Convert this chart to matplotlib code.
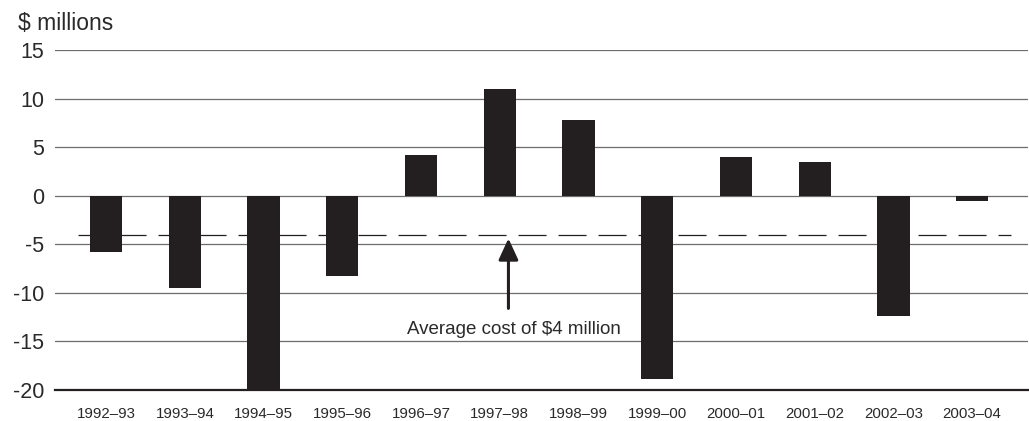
import matplotlib
matplotlib.use("Agg")
import matplotlib.pyplot as plt

plt.rcParams['font.family'] = ['Liberation Sans', 'DejaVu Sans']
plt.rcParams['lines.scale_dashes'] = False

years = ['1992–93', '1993–94', '1994–95', '1995–96', '1996–97', '1997–98',
         '1998–99', '1999–00', '2000–01', '2001–02', '2002–03', '2003–04']
values = [-5.8, -9.5, -20.0, -8.3, 4.2, 11.0, 7.8, -18.9, 4.0, 3.5, -12.4, -0.5]
average = -4
y_ticks = [15, 10, 5, 0, -5, -10, -15, -20]

bar_col = '#231f20'
txt_col = '#2a2a2a'

fig = plt.figure(figsize=(10.29, 4.21), dpi=100)
ax = fig.add_axes([55 / 1029, 1 - 390 / 421, 973 / 1029, 340 / 421])

x = list(range(len(years)))
ax.bar(x, values, width=0.41, color=bar_col, zorder=3)

# average line, dashed, behind the bars
ax.plot([-0.36, 11.49], [average, average], color=bar_col, lw=0.9,
        dashes=(20.2, 8.6), zorder=2)

for t in y_ticks:
    if t == -20:
        continue
    ax.axhline(t, color='#6d6d6d', lw=0.9, zorder=1)

ax.set_xlim(-0.65, 11.71)
ax.set_ylim(-20, 15)
ax.set_yticks(y_ticks)
ax.set_yticklabels([str(t) for t in y_ticks])
ax.set_xticks(x)
ax.set_xticklabels(years)

for s in ['top', 'right', 'left']:
    ax.spines[s].set_visible(False)
ax.spines['bottom'].set_color('#231f20')
ax.spines['bottom'].set_linewidth(1.6)

ax.tick_params(axis='y', length=0, pad=8, labelsize=15.5, labelcolor=txt_col)
ax.tick_params(axis='x', length=0, pad=12.5, labelsize=10.8, labelcolor=txt_col)

ax.annotate('', xy=(5.11, -4.4), xytext=(5.11, -11.6),
            arrowprops=dict(arrowstyle='-|>,head_length=1.3,head_width=0.6',
                            color=bar_col, lw=2.2, shrinkA=0, shrinkB=0),
            zorder=4)
ax.text(5.18, -12.9, 'Average cost of \\$4 million', ha='center', va='top',
        fontsize=13.5, color=txt_col)

fig.text(18 / 1029, 1 - 30 / 421, '\\$ millions', ha='left', va='baseline',
         fontsize=16.5, color=txt_col)

fig.savefig('out.png', dpi=100)
